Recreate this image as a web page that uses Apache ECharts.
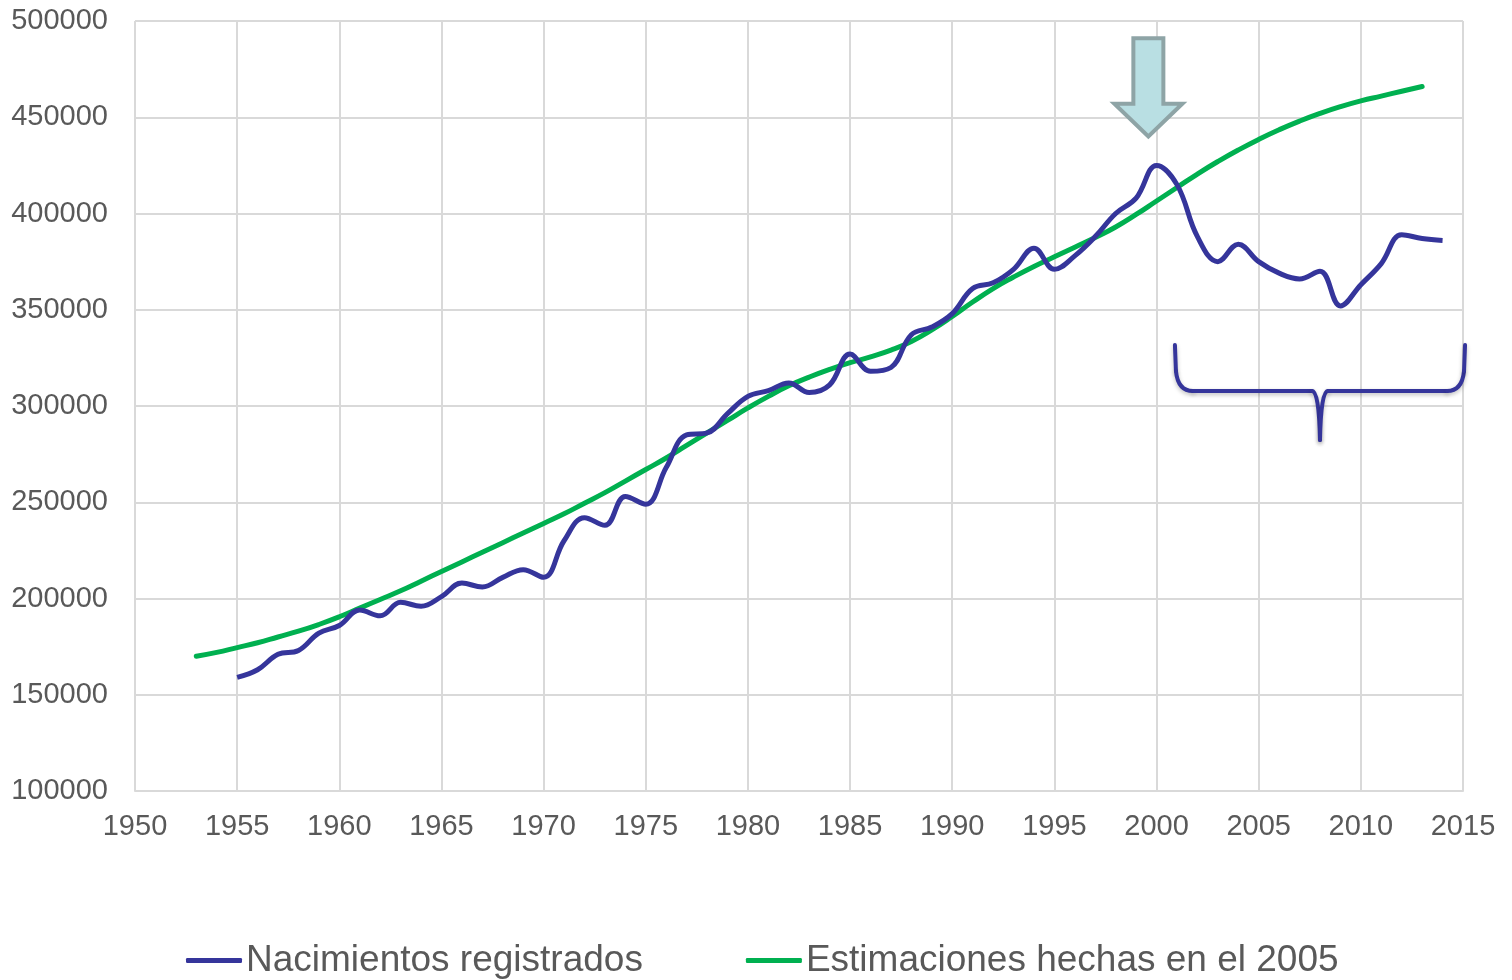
<!DOCTYPE html>
<html>
<head>
<meta charset="utf-8">
<script src="https://cdn.jsdelivr.net/npm/echarts@6/dist/echarts.min.js"></script>
<style>
  html, body { margin: 0; padding: 0; background: #fff; }
  #main { width: 1512px; height: 980px; }
</style>
</head>
<body>
<div id="main"></div>
<script>
// nacimientos registrados, 1955-2014
const yearsReg = [1955,1956,1957,1958,1959,1960,1961,1962,1963,1964,1965,1966,1967,1968,1969,1970,1971,1972,1973,1974,1975,1976,1977,1978,1979,1980,1981,1982,1983,1984,1985,1986,1987,1988,1989,1990,1991,1992,1993,1994,1995,1996,1997,1998,1999,2000,2001,2002,2003,2004,2005,2006,2007,2008,2009,2010,2011,2012,2013,2014];
const nacimientos = [159000,163000,171000,173000,182000,186000,194000,191000,198000,196000,201000,208000,206000,211000,215000,211000,230000,242000,238000,253000,249000,268000,285000,286000,296000,305000,308000,312000,307000,311000,327000,318000,320000,337000,341000,348000,361000,364000,371000,382000,371000,378000,388000,400000,408000,425000,415000,388000,375000,384000,375000,369000,366000,370000,352000,363000,374000,389000,387000,386000];

// estimaciones 2005, 1953-2013
const yearsEst = [1953,1954,1955,1956,1957,1958,1959,1960,1961,1962,1963,1964,1965,1966,1967,1968,1969,1970,1971,1972,1973,1974,1975,1976,1977,1978,1979,1980,1981,1982,1983,1984,1985,1986,1987,1988,1989,1990,1991,1992,1993,1994,1995,1996,1997,1998,1999,2000,2001,2002,2003,2004,2005,2006,2007,2008,2009,2010,2011,2012,2013];
const estimaciones = [170000,172000,174500,177000,180000,183000,186500,190500,195000,199500,204000,209000,214000,219000,224000,229000,234000,239000,244000,249500,255000,261000,267000,273000,279500,286000,292500,299000,305000,310500,315000,319000,322500,325500,329000,333500,339500,346500,354000,361000,367000,372500,377500,382500,387500,393000,399500,406500,413500,420500,427000,433000,438500,443500,448000,452000,455500,458500,461000,463500,466000];

const seriesNames = ['Nacimientos registrados', 'Estimaciones hechas en el 2005'];

const azul = '#35359b';
const verde = '#00b050';
const gris = '#595959';

let chart = echarts.init(document.getElementById('main'));

let option = {
    animation: false,
    textStyle: { fontFamily: 'Liberation Sans, Arial, sans-serif' },
    grid: { left: 135, right: 49, top: 21, bottom: 189 },
    legend: {
        top: 937,
        left: 181,
        itemGap: 103,
        itemWidth: 56,
        itemHeight: 5,
        icon: 'roundRect',
        textStyle: { fontSize: 37, color: gris, padding: [0, 0, 0, -1] },
        data: seriesNames
    },
    xAxis: {
        type: 'value',
        min: 1950,
        max: 2015,
        interval: 5,
        axisLine: { lineStyle: { color: '#d9d9d9', width: 2 } },
        axisTick: { show: false },
        axisLabel: { fontSize: 29, color: gris, margin: 21, formatter: v => String(v) },
        splitLine: { show: true, lineStyle: { color: '#d9d9d9', width: 2 } }
    },
    yAxis: {
        type: 'value',
        min: 100000,
        max: 500000,
        interval: 50000,
        axisLine: { show: false },
        axisTick: { show: false },
        axisLabel: { fontSize: 29, color: gris, margin: 27, formatter: v => String(v) },
        splitLine: { lineStyle: { color: '#d9d9d9', width: 2 } }
    },
    series: [
        {
            name: seriesNames[0],
            type: 'line',
            smooth: 0.4,
            symbol: 'none',
            z: 3,
            lineStyle: { color: azul, width: 5 },
            itemStyle: { color: azul },
            data: yearsReg.map((y, i) => [y, nacimientos[i]])
        },
        {
            name: seriesNames[1],
            type: 'line',
            smooth: 0.5,
            symbol: 'none',
            z: 2,
            lineStyle: { color: verde, width: 5, cap: 'round' },
            itemStyle: { color: verde },
            data: yearsEst.map((y, i) => [y, estimaciones[i]])
        }
    ]
};

chart.setOption(option);

// annotations: arrow over the 2000 peak and brace under 2001-2015
function px(x, y) { return chart.convertToPixel({ gridIndex: 0 }, [x, y]); }

let arrowTop = px(1999.6, 491000);
let arrowBase = px(1999.6, 457000);
let arrowTip = px(1999.6, 440000);
let cx = arrowTip[0];
let arrowPts = [
    [cx - 15, arrowTop[1]], [cx + 15, arrowTop[1]], [cx + 15, arrowBase[1]], [cx + 34, arrowBase[1]],
    [cx, arrowTip[1]], [cx - 34, arrowBase[1]], [cx - 15, arrowBase[1]]
];

let bl = px(2000.9, 331700);
let br = px(2015.1, 331700);
let bh = px(2008, 307800);
let bt = px(2008, 282300);
let yh = bh[1], xm = bh[0];
let braceStyle = {
    fill: null, stroke: azul, lineWidth: 4, lineCap: 'round',
    shadowBlur: 4, shadowColor: 'rgba(0,0,0,0.25)', shadowOffsetY: 2
};
function seg(shape) { return { type: 'line', shape: shape, style: braceStyle }; }
function curve(shape) { return { type: 'bezierCurve', shape: shape, style: braceStyle }; }

let braceParts = [
    seg({ x1: bl[0], y1: bl[1], x2: bl[0] + 1, y2: yh - 20 }),
    curve({ x1: bl[0] + 1, y1: yh - 20, cpx1: bl[0] + 3, cpy1: yh, x2: bl[0] + 18, y2: yh }),
    seg({ x1: bl[0] + 18, y1: yh, x2: xm - 8, y2: yh }),
    curve({ x1: xm - 8, y1: yh, cpx1: xm - 1, cpy1: yh, x2: xm, y2: bt[1] }),
    curve({ x1: xm, y1: bt[1], cpx1: xm + 1, cpy1: yh, x2: xm + 8, y2: yh }),
    seg({ x1: xm + 8, y1: yh, x2: br[0] - 18, y2: yh }),
    curve({ x1: br[0] - 18, y1: yh, cpx1: br[0] - 3, cpy1: yh, x2: br[0] - 1, y2: yh - 20 }),
    seg({ x1: br[0] - 1, y1: yh - 20, x2: br[0], y2: bl[1] })
];

chart.setOption({
    graphic: [
        {
            type: 'polygon',
            z: 10,
            shape: { points: arrowPts },
            style: { fill: '#b9dfe3', stroke: '#8ea4a6', lineWidth: 4 }
        },
        {
            type: 'group',
            z: 10,
            children: braceParts
        }
    ]
});
</script>
</body>
</html>
